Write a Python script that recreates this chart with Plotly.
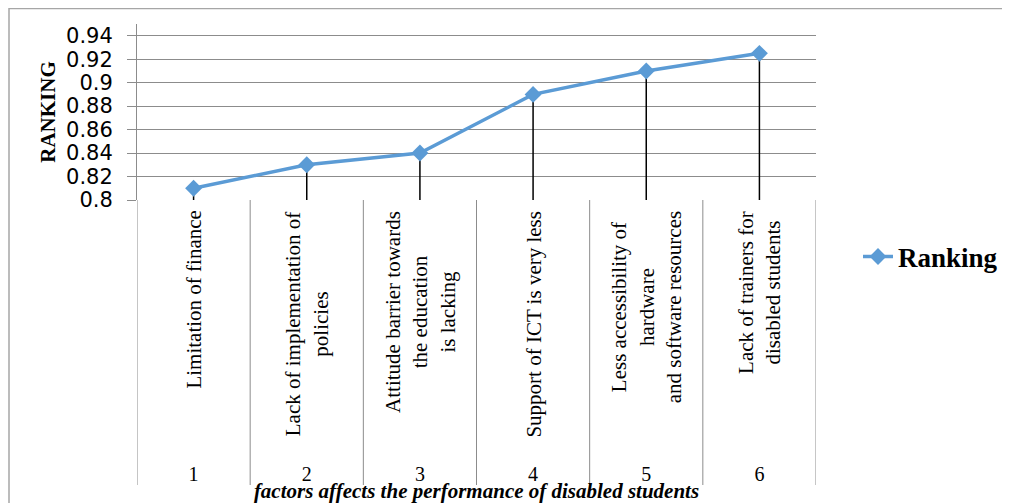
import plotly.graph_objects as go

# ---- data ----
factors = [
    "Limitation of finance",
    "Lack of implementation of<br>policies",
    "Attitude barrier towards<br>the education<br>is lacking",
    "Support of ICT is very less",
    "Less accessibility of<br>hardware<br>and software resources",
    "Lack of trainers for<br>disabled students",
]
factor_numbers = ["1", "2", "3", "4", "5", "6"]
ranking = [0.81, 0.83, 0.84, 0.89, 0.91, 0.925]
y_tickvals = [0.8, 0.82, 0.84, 0.86, 0.88, 0.9, 0.92, 0.94]
y_ticktext = ["0.8", "0.82", "0.84", "0.86", "0.88", "0.9", "0.92", "0.94"]
y_min, y_max = 0.8, 0.95

# ---- layout geometry (screen pixels; page body has an 8px margin) ----
OFF = 8
W, H = 1010 - OFF, 503 - OFF
L, R, T, B = 137, 816, 24, 200
pw, ph = R - L, B - T


def px_x(x):
    return (x - L) / pw


def px_y(y):
    return (B - y) / ph


blue = "#5B9BD5"
grid = "#8c8c8c"
serif = "Liberation Serif, Times New Roman, serif"

fig = go.Figure()
fig.add_trace(go.Scatter(
    x=factor_numbers,
    y=ranking,
    mode="lines+markers",
    name="Ranking",
    line=dict(color=blue, width=3.5),
    marker=dict(symbol="diamond", size=13, color=blue),
    error_y=dict(
        type="data", symmetric=False,
        array=[0] * len(ranking),
        arrayminus=[v - y_min for v in ranking],
        color="black", thickness=1.5, width=0,
    ),
))

shapes = []
# category dividers below the plot
for i in range(len(factors) + 1):
    shapes.append(dict(
        type="line", xref="x", yref="paper",
        x0=i - 0.5, x1=i - 0.5, y0=0, y1=px_y(485),
        line=dict(color=grid, width=1),
    ))
# outer chart frame
shapes.append(dict(
    type="rect", xref="paper", yref="paper",
    x0=px_x(9), x1=px_x(1030), y0=px_y(530), y1=px_y(8.5),
    line=dict(color="#a6a6a6", width=1.5),
))

annotations = []
for i, label in enumerate(factors):
    annotations.append(dict(
        x=i, xref="x", y=px_y(209), yref="paper",
        text=label, textangle=-90, showarrow=False,
        xanchor="center", yanchor="top", align="center",
        font=dict(family=serif, size=21, color="black"),
    ))

fig.update_layout(
    width=W, height=H,
    margin=dict(l=L - OFF, r=W - (R - OFF), t=T - OFF, b=H - (B - OFF), autoexpand=False),
    paper_bgcolor="white", plot_bgcolor="white",
    shapes=shapes, annotations=annotations,
    showlegend=True,
    legend=dict(
        x=px_x(858), y=px_y(257), xanchor="left", yanchor="middle",
        font=dict(family=serif, size=27, color="black", weight="bold"),
        bgcolor="rgba(0,0,0,0)",
    ),
    xaxis=dict(
        type="category",
        categoryorder="array", categoryarray=factor_numbers,
        range=[-0.5, len(factors) - 0.5],
        showgrid=False, showline=False, zeroline=False, ticks="",
        tickfont=dict(family=serif, size=20, color="black"),
        ticklabelstandoff=260,
        title=dict(
            text="<b><i>factors affects the performance of disabled students</i></b>",
            font=dict(family=serif, size=21, color="black"),
            standoff=1,
        ),
        automargin=False,
    ),
    yaxis=dict(
        range=[y_min, y_max],
        tickvals=y_tickvals, ticktext=y_ticktext,
        showgrid=True, gridcolor=grid, gridwidth=1,
        showline=True, linecolor=grid, linewidth=1,
        ticks="outside", ticklen=9, tickcolor=grid, tickwidth=1,
        ticklabelstandoff=10,
        tickfont=dict(family="DejaVu Sans", size=21, color="black"),
        zeroline=False,
        title=dict(
            text="<b>RANKING</b>",
            font=dict(family=serif, size=21, color="black"),
            standoff=4,
        ),
        automargin=False,
    ),
)

fig.write_html("out.html")
